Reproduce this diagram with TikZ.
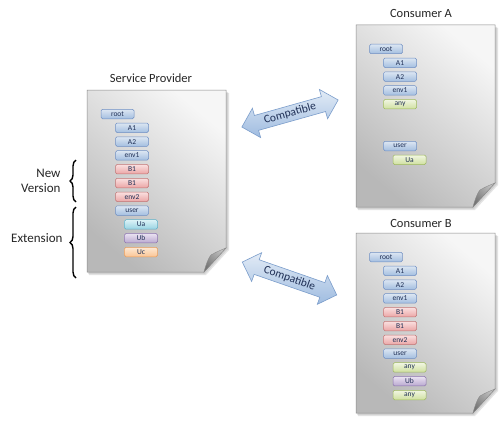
\documentclass[tikz,border=0pt]{standalone}
\usepackage{fontspec}
\setmainfont{Carlito}
\usetikzlibrary{shapes.arrows,decorations.pathreplacing,calc}
\definecolor{bluetop}{HTML}{DCE6F2}
\definecolor{bluebot}{HTML}{A3BEE0}
\definecolor{bluedraw}{HTML}{6F8FC3}
\definecolor{redtop}{HTML}{FAE0E0}
\definecolor{redbot}{HTML}{EBA5A5}
\definecolor{reddraw}{HTML}{C07575}
\definecolor{cyantop}{HTML}{DDF3F7}
\definecolor{cyanbot}{HTML}{98D3E2}
\definecolor{cyandraw}{HTML}{5EAFC6}
\definecolor{purptop}{HTML}{EAE2F2}
\definecolor{purpbot}{HTML}{B9A8CF}
\definecolor{purpdraw}{HTML}{8A72AC}
\definecolor{orgtop}{HTML}{FDE8D4}
\definecolor{orgbot}{HTML}{FAC594}
\definecolor{orgdraw}{HTML}{E49A5A}
\definecolor{grntop}{HTML}{F1F6E2}
\definecolor{grnbot}{HTML}{CFE09F}
\definecolor{grndraw}{HTML}{9DB85E}
\definecolor{navytxt}{HTML}{1F2F55}
\definecolor{pagedraw}{HTML}{8A8A8A}
\definecolor{pagelight}{HTML}{F6F6F6}
\definecolor{pagedark}{HTML}{B8B8B8}
\definecolor{arrtop}{HTML}{E2EBF6}
\definecolor{arrbot}{HTML}{9FBCE0}
\definecolor{arrdraw}{HTML}{7B9DCB}
\tikzset{
  item/.style={rounded corners=1.5pt, minimum width=33pt, minimum height=9.5pt,
    inner sep=0pt, font=\fontsize{7.5}{8}\selectfont, line width=0.5pt, text=navytxt},
  bluebx/.style={item, draw=bluedraw, top color=bluetop, bottom color=bluebot},
  redbx/.style={item, draw=reddraw, top color=redtop, bottom color=redbot},
  cyanbx/.style={item, draw=cyandraw, top color=cyantop, bottom color=cyanbot},
  purpbx/.style={item, draw=purpdraw, top color=purptop, bottom color=purpbot},
  orgbx/.style={item, draw=orgdraw, top color=orgtop, bottom color=orgbot},
  grnbx/.style={item, draw=grndraw, top color=grntop, bottom color=grnbot},
  pagefill/.style={draw=pagedraw, line width=0.5pt, top color=pagelight, bottom color=pagedark, shading angle=-40},
  foldfill/.style={draw=pagedraw, line width=0.4pt, top color=black!25, bottom color=black!55, shading angle=-40},
  title/.style={font=\fontsize{12.5}{14}\selectfont, text=black!85},
  dblarrow/.style={shape=double arrow, double arrow head extend=7.5pt, minimum height=100pt,
    inner xsep=1pt, inner ysep=2.5pt, draw=arrdraw, line width=0.6pt,
    top color=arrtop, bottom color=arrbot, font=\fontsize{11.5}{12}\selectfont, text=navytxt},
  bracestyle/.style={decorate, decoration={brace, amplitude=6pt}, line width=1.4pt},
  sidelabel/.style={font=\fontsize{13}{15}\selectfont, text=black!85, align=right}
}
\newcommand\mydocpage[4]{%
  \fill[black!40, opacity=0.25] (#1+2,#2+3) -- (#3+3,#2+3) -- (#3+3,#4-22) -- (#3-20,#4+3) -- (#1+2,#4+3) -- cycle;
  \fill[black!40, opacity=0.25] (#1+1,#2+2) -- (#3+2,#2+2) -- (#3+2,#4-23) -- (#3-21,#4+2) -- (#1+1,#4+2) -- cycle;
  \path[pagefill] (#1,#2) -- (#3,#2) -- (#3,#4-24) -- (#3-22,#4) -- (#1,#4) -- cycle;
  \path[foldfill] (#3,#4-24) -- (#3-22,#4) .. controls (#3-20,#4-8) and (#3-17,#4-15) .. (#3-15,#4-17)
     .. controls (#3-10,#4-20) and (#3-5,#4-22) .. cycle;
}
\begin{document}
\begin{tikzpicture}[x=1pt,y=-1pt]
\useasboundingbox[fill=white] (0,0) rectangle (500,420);

% pages
\mydocpage{87}{90}{226}{272}
\mydocpage{356}{25}{495}{207}
\mydocpage{356}{233}{495}{413}

% titles
\node[title] (tsp) at (151,78) {Service Provider};
\node[title] (tca) at (421,13) {Consumer A};
\node[title] (tcb) at (421,223) {Consumer B};

% Service provider items
\node[bluebx] (sproot) at (117.5,114) {root};
\node[bluebx] (spa1) at (132,127.8) {A1};
\node[bluebx] (spa2) at (132,141.6) {A2};
\node[bluebx] (spenv1) at (132,155.4) {env1};
\node[redbx] (spb1) at (132,169.2) {B1};
\node[redbx] (spb1b) at (132,183) {B1};
\node[redbx] (spenv2) at (132,196.8) {env2};
\node[bluebx] (spuser) at (132,210.6) {user};
\node[cyanbx] (spua) at (141,224.4) {Ua};
\node[purpbx] (spub) at (141,238.2) {Ub};
\node[orgbx] (spuc) at (141,252) {Uc};

% Consumer A items
\node[bluebx] (caroot) at (386,49) {root};
\node[bluebx] (caa1) at (400,62.8) {A1};
\node[bluebx] (caa2) at (400,76.6) {A2};
\node[bluebx] (caenv1) at (400,90.4) {env1};
\node[grnbx] (caany) at (400,104.2) {any};
\node[bluebx] (causer) at (400,146) {user};
\node[grnbx] (caua) at (409.5,159.8) {Ua};

% Consumer B items
\node[bluebx] (cbroot) at (386,257) {root};
\node[bluebx] (cba1) at (400,270.8) {A1};
\node[bluebx] (cba2) at (400,284.6) {A2};
\node[bluebx] (cbenv1) at (400,298.4) {env1};
\node[redbx] (cbb1) at (400,312.2) {B1};
\node[redbx] (cbb1b) at (400,326) {B1};
\node[redbx] (cbenv2) at (400,339.8) {env2};
\node[bluebx] (cbuser) at (400,353.6) {user};
\node[grnbx] (cbany) at (409.5,367.4) {any};
\node[purpbx] (cbub) at (409.5,381.2) {Ub};
\node[grnbx] (cbanyb) at (409.5,395) {any};

% compatibility arrows
\node[dblarrow, rotate=15.7] (arra) at (290,113.5) {Compatible};
\node[dblarrow, rotate=-19.2] (arrb) at (289.5,278.5) {Compatible};

% braces and labels
\draw[bracestyle] (76,202) -- (76,160);
\draw[bracestyle] (76,278) -- (76,207);
\node[sidelabel, anchor=east] (lnew) at (64,181) {New\\Version};
\node[sidelabel, anchor=east] (lext) at (66,238) {Extension};
\end{tikzpicture}
\end{document}
